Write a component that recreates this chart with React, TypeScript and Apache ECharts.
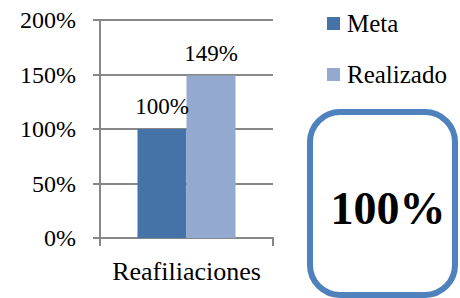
import React, { useEffect, useRef } from "react";
import * as echarts from "echarts";

const categories = ["Reafiliaciones"];
const metaValues = [100];
const realizadoValues = [149];
const seriesNames = ["Meta", "Realizado"];
const yTicks = [0, 50, 100, 150, 200];
const summaryText = "100%";

const FONT = "Liberation Serif";

export default function App() {
  const ref = useRef<HTMLDivElement>(null);
  useEffect(() => {
    if (!ref.current) return;
    const chart = echarts.init(ref.current, null, { renderer: "svg" });
    const gridColor = "#878787";
    chart.setOption({
      animation: false,
      backgroundColor: "#ffffff",
      textStyle: { fontFamily: FONT, color: "#000" },
      grid: { left: 100, right: 187, top: 20, bottom: 60, containLabel: false },
      legend: {
        orient: "vertical",
        left: 322,
        top: 6,
        itemWidth: 13,
        itemHeight: 13,
        itemGap: 26,
        icon: "rect",
        data: seriesNames,
        textStyle: { fontFamily: FONT, fontSize: 25, color: "#000", padding: [0, 0, 0, 2] },
      },
      xAxis: {
        type: "category",
        data: categories,
        boundaryGap: true,
        axisLine: { show: true, lineStyle: { color: gridColor, width: 2 } },
        axisTick: { show: true, length: 8, lineStyle: { color: gridColor, width: 2 } },
        axisLabel: { fontFamily: FONT, fontSize: 26, color: "#000", margin: 20 },
      },
      yAxis: {
        type: "value",
        min: yTicks[0],
        max: yTicks[yTicks.length - 1],
        interval: 50,
        axisLine: { show: true, lineStyle: { color: gridColor, width: 2 } },
        axisTick: { show: true, length: 7, lineStyle: { color: gridColor, width: 2 } },
        splitLine: { show: true, lineStyle: { color: gridColor, width: 2 } },
        axisLabel: {
          fontFamily: FONT,
          fontSize: 24,
          color: "#000",
          margin: 24,
          formatter: (v: number) => `${v}%`,
        },
      },
      series: [
        {
          name: seriesNames[0],
          type: "bar",
          data: metaValues,
          barWidth: 49,
          barGap: "0%",
          itemStyle: { color: "#4572A7" },
          label: {
            show: true,
            position: "top",
            distance: 11,
            fontFamily: FONT,
            fontSize: 23,
            color: "#000",
            formatter: (p: any) => `${p.value}%`,
          },
        },
        {
          name: seriesNames[1],
          type: "bar",
          data: realizadoValues,
          barWidth: 49,
          barGap: "0%",
          itemStyle: { color: "#93A9CF" },
          label: {
            show: true,
            position: "top",
            distance: 11,
            fontFamily: FONT,
            fontSize: 23,
            color: "#000",
            formatter: (p: any) => `${p.value}%`,
          },
        },
      ],
      graphic: [
        {
          type: "rect",
          shape: { x: 310, y: 112, width: 145, height: 183, r: 30 },
          style: { fill: "#ffffff", stroke: "#4F81BD", lineWidth: 6 },
          z: 10,
        },
        {
          type: "text",
          x: 388,
          y: 208,
          z: 11,
          style: {
            text: summaryText,
            fontFamily: FONT,
            fontSize: 46,
            fontWeight: "bold",
            fill: "#000",
            align: "center",
            verticalAlign: "middle",
          },
        },
      ],
    });
    return () => chart.dispose();
  }, []);
  return <div ref={ref} style={{ width: 460, height: 298, position: "absolute", left: 0, top: 0 }} />;
}
